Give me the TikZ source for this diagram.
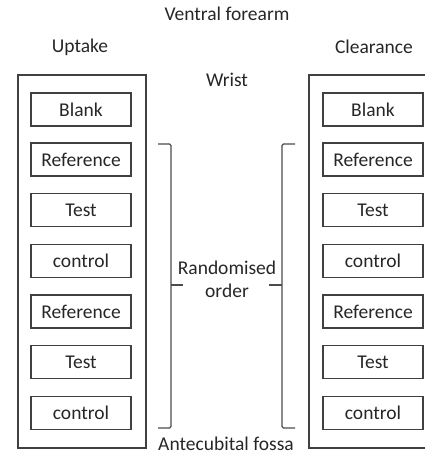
\documentclass[tikz,border=0pt]{standalone}
\usepackage{fontspec}
\setmainfont{Carlito}
\begin{document}
\begin{tikzpicture}[x=1pt,y=-1pt,
  lbl/.style={inner sep=0pt, font=\fontsize{19.5}{23}\selectfont, text=black!85},
  cell/.style={draw=black!75, line width=1.3pt, minimum width=100pt, minimum height=33pt, inner sep=0pt, font=\fontsize{19.5}{23}\selectfont, text=black!85},
  outer/.style={draw=black!75, line width=1.6pt, inner sep=0pt},
  brk/.style={draw=black!70, line width=1.3pt, rounded corners=1.5pt}]
\useasboundingbox (0,0) rectangle (424,457);
% outer boxes
\node[outer, minimum width=128pt, minimum height=373pt] (L) at (82,261.5) {};
\node[outer, minimum width=131pt, minimum height=373pt] (R) at (374.5,261.5) {};
% headings
\node[lbl] (vf) at (227,14) {Ventral forearm};
\node[lbl] (up) at (80,47) {Uptake};
\node[lbl] (cl) at (374,47) {Clearance};
\node[lbl] (wr) at (227,80) {Wrist};
\node[lbl] (af) at (226,444) {Antecubital fossa};
\node[lbl, align=center] (ro) at (227,279) {Randomised\\order};
% left cells
\node[cell] (l1) at (81,109.5) {Blank};
\node[cell] (l2) at (81,159.5) {Reference};
\node[cell] (l3) at (81,210) {Test};
\node[cell] (l4) at (81,261) {control};
\node[cell] (l5) at (81,311.5) {Reference};
\node[cell] (l6) at (81,362) {Test};
\node[cell] (l7) at (81,413) {control};
% right cells
\node[cell] (r1) at (373,109.5) {Blank};
\node[cell] (r2) at (373,159.5) {Reference};
\node[cell] (r3) at (373,210) {Test};
\node[cell] (r4) at (373,261) {control};
\node[cell] (r5) at (373,311.5) {Reference};
\node[cell] (r6) at (373,362) {Test};
\node[cell] (r7) at (373,413) {control};
% brackets
\coordinate (lbt) at (158,144);
\coordinate (lbb) at (158,428);
\coordinate (lbm) at (183,285);
\draw[brk] (lbt) -- (171,144) -- (171,428) -- (lbb);
\draw[brk] (171,285) -- (lbm);
\coordinate (rbt) at (295,144);
\coordinate (rbb) at (295,428);
\coordinate (rbm) at (269,285);
\draw[brk] (rbt) -- (282,144) -- (282,428) -- (rbb);
\draw[brk] (282,285) -- (rbm);
\end{tikzpicture}
\end{document}
